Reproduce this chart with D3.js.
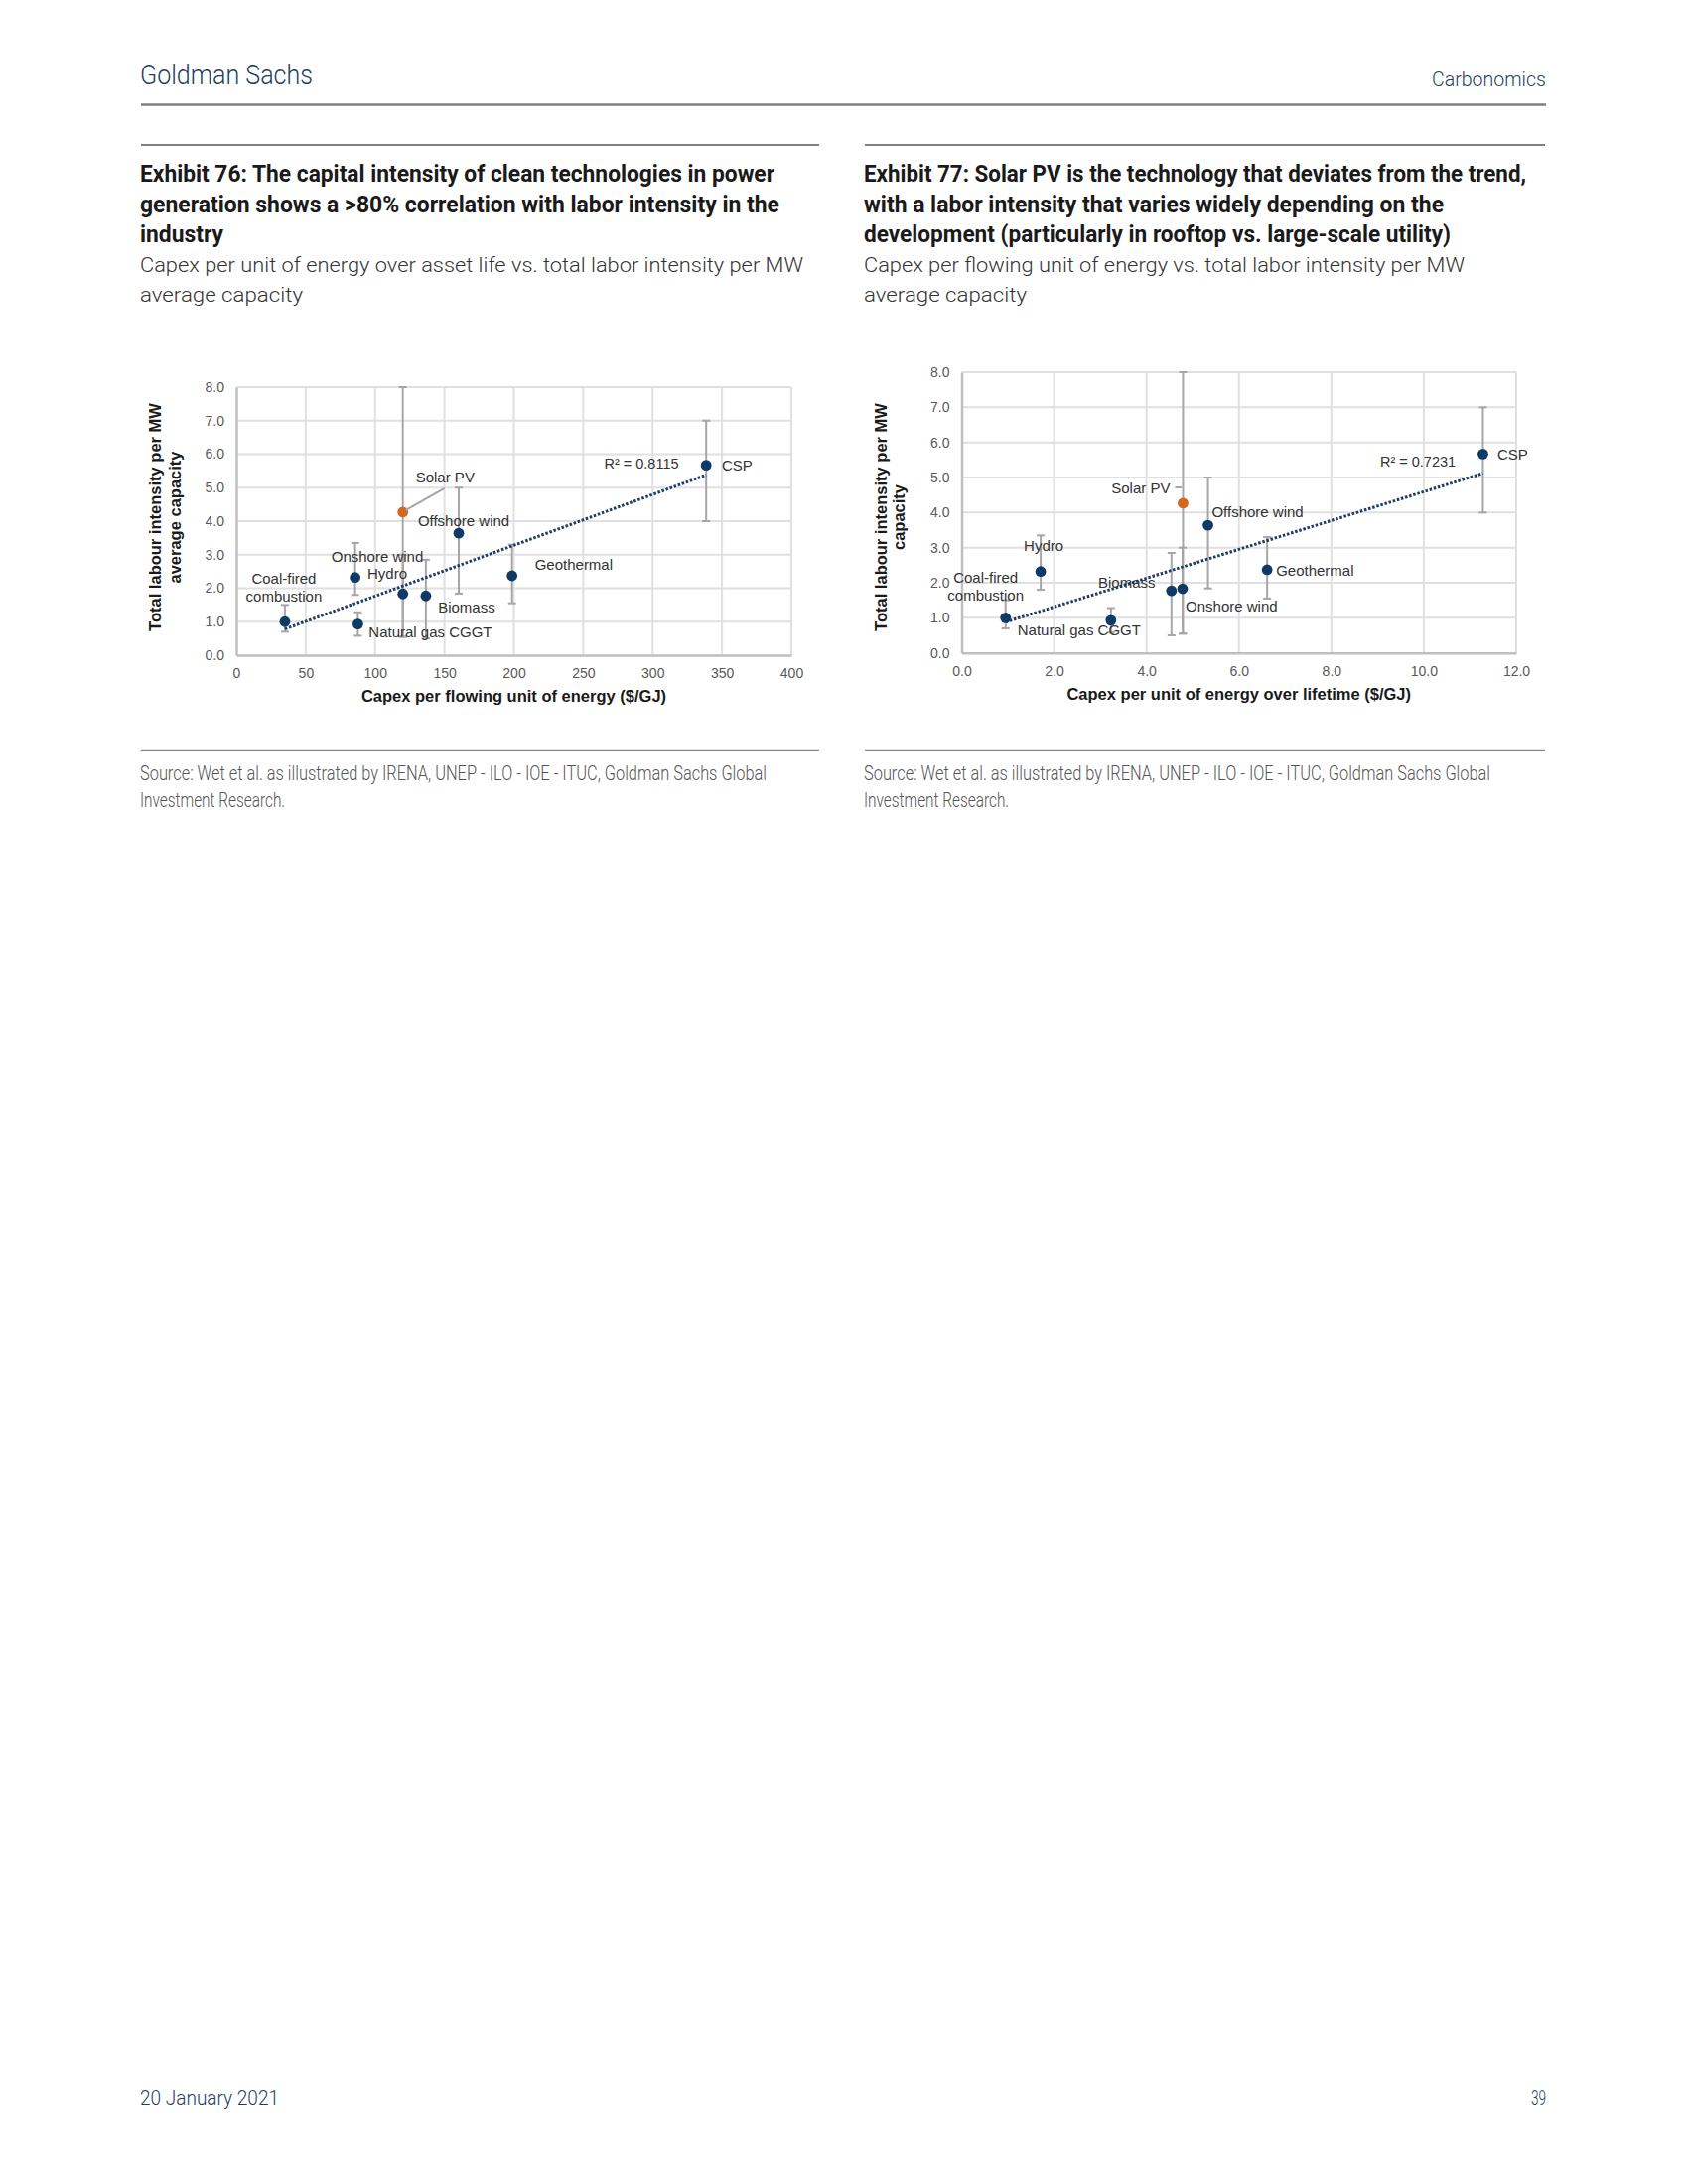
<!DOCTYPE html>
<html><head><meta charset="utf-8">
<script src="https://cdn.jsdelivr.net/npm/d3@7"></script>
<style>body{margin:0;background:#fff} svg{display:block}</style>
</head><body><svg id="page" width="1700" height="2200"></svg>
<script>
// ---------- DATA ----------
const technologies = ["Coal-fired combustion","Hydro","Natural gas CGGT","Onshore wind","Solar PV","Biomass","Offshore wind","Geothermal","CSP"];
const capexFlowing  = [35, 85.6, 87.6, 120, 120, 136.6, 160.3, 198.7, 338.6];   // $/GJ (Exhibit 76 x)
const capexLifetime = [0.95, 1.71, 3.23, 4.78, 4.79, 4.54, 5.33, 6.61, 11.28];  // $/GJ (Exhibit 77 x)
const laborMid  = [1.0, 2.32, 0.93, 1.83, 4.27, 1.77, 3.64, 2.37, 5.67];
const laborLow  = [0.7, 1.8, 0.58, 0.55, 0.55, 0.5, 1.84, 1.55, 4.0];
const laborHigh = [1.5, 3.35, 1.28, 3.0, 8.0, 2.85, 5.0, 3.3, 7.0];
const xTicks76 = [0, 50, 100, 150, 200, 250, 300, 350, 400];
const xTicks77 = [0, 2, 4, 6, 8, 10, 12];
const yTicks = [0, 1, 2, 3, 4, 5, 6, 7, 8];
const trend76X = [35, 338.6], trend76Y = [0.78, 5.38];
const trend77X = [0.95, 11.28], trend77Y = [0.88, 5.12];
const r2Text = ["R\u00B2 = 0.8115", "R\u00B2 = 0.7231"];
const highlight = "Solar PV";

// ---------- PAGE ----------
const svg = d3.select("#page");
const GS = "#1f3f5f";
function txt(str, x, y, o = {}) {
  const t = svg.append("text").attr("x", x).attr("y", y).text(str)
    .style("font-family", o.family || "Roboto, 'Liberation Sans', sans-serif")
    .style("font-size", (o.size || 14) + "px")
    .style("font-weight", o.weight || 400)
    .attr("fill", o.fill || "#222")
    .attr("text-anchor", o.anchor || "start");
  if (o.width) t.attr("textLength", o.width).attr("lengthAdjust", "spacingAndGlyphs");
  return t;
}
function rule(x1, x2, y, w, c) {
  svg.append("line").attr("x1", x1).attr("x2", x2).attr("y1", y).attr("y2", y)
    .attr("stroke", c || "#808080").attr("stroke-width", w);
}
// header / footer
txt("Goldman Sachs", 141, 85, {size: 27, fill: GS, width: 174, weight: 300});
txt("Carbonomics", 1557, 86.5, {size: 21, fill: GS, anchor: "end", width: 115, weight: 300});
rule(142, 1557, 105.5, 2.5, "#7f7f7f");
txt("20 January 2021", 141, 2120, {size: 21, fill: GS, width: 140, weight: 300});
txt("39", 1557, 2120, {size: 21, fill: GS, anchor: "end", weight: 300, width: 15});

// exhibit headings
const heads = [
  {x: 141, rx2: 825, lines: [
     ["Exhibit 76: The capital intensity of clean technologies in power", 639],
     ["generation shows a >80% correlation with labor intensity in the", 644],
     ["industry", 84]],
   sub: [["Capex per unit of energy over asset life vs. total labor intensity per MW", 668], ["average capacity", 164]]},
  {x: 870, rx2: 1556, lines: [
     ["Exhibit 77: Solar PV is the technology that deviates from the trend,", 667],
     ["with a labor intensity that varies widely depending on the", 584],
     ["development (particularly in rooftop vs. large-scale utility)", 591]],
   sub: [["Capex per flowing unit of energy vs. total labor intensity per MW", 605], ["average capacity", 164]]}
];
heads.forEach(h => {
  rule(h.x + 1, h.rx2, 146, 2, "#808080");
  h.lines.forEach((l, i) => txt(l[0], h.x, 183.3 + i * 30.2, {size: 23, weight: 700, fill: "#1a1a1a", width: l[1]}));
  h.sub.forEach((l, i) => txt(l[0], h.x, 274.3 + i * 30, {size: 20, weight: 300, fill: "#333", width: l[1]}));
  rule(h.x + 1, h.rx2, 755.5, 1.5, "#8a8a8a");
  txt("Source: Wet et al. as illustrated by IRENA, UNEP - ILO - IOE - ITUC, Goldman Sachs Global", h.x, 786, {size: 20, weight: 300, fill: "#555", width: 631});
  txt("Investment Research.", h.x, 812.5, {size: 20, weight: 300, fill: "#555", width: 146});
});

// ---------- CHARTS ----------
const ARIAL = "'Liberation Sans', Arial, sans-serif";
function drawChart(c) {
  const g = svg.append("g");
  const x = d3.scaleLinear().domain(c.xDomain).range(c.xRange);
  const y = d3.scaleLinear().domain([0, 8]).range(c.yRange);
  // grid
  g.selectAll(".vg").data(c.xTicks.slice(1)).join("line")
    .attr("x1", d => x(d)).attr("x2", d => x(d)).attr("y1", y(0)).attr("y2", y(8))
    .attr("stroke", "#e0e0e0").attr("stroke-width", 2);
  g.selectAll(".hg").data(yTicks.slice(1)).join("line")
    .attr("x1", x(c.xDomain[0])).attr("x2", x(c.xDomain[1])).attr("y1", d => y(d)).attr("y2", d => y(d))
    .attr("stroke", "#e0e0e0").attr("stroke-width", 2);
  // axes
  const xa = g.append("g").attr("transform", `translate(0,${y(0)})`)
    .call(d3.axisBottom(x).tickValues(c.xTicks).tickFormat(c.xFmt).tickSize(0).tickPadding(13));
  const ya = g.append("g").attr("transform", `translate(${x(c.xDomain[0])},0)`)
    .call(d3.axisLeft(y).tickValues(yTicks).tickFormat(d3.format(".1f")).tickSize(0).tickPadding(12));
  [xa, ya].forEach(a => {
    a.select(".domain").attr("stroke", "#bfbfbf").attr("stroke-width", 2.5);
    a.selectAll("text").style("font-family", ARIAL).style("font-size", "14px").attr("fill", "#595959");
  });
  // error bars
  const idx = d3.range(technologies.length);
  const eb = g.append("g").attr("stroke", "#a6a6a6").attr("stroke-width", 2);
  idx.forEach(i => {
    const px = x(c.xData[i]);
    eb.append("line").attr("x1", px).attr("x2", px).attr("y1", y(laborLow[i])).attr("y2", y(laborHigh[i]));
    [laborLow[i], laborHigh[i]].forEach(v =>
      eb.append("line").attr("x1", px - 4).attr("x2", px + 4).attr("y1", y(v)).attr("y2", y(v)));
  });
  // trend line
  g.append("line").attr("x1", x(c.trendX[0])).attr("x2", x(c.trendX[1]))
    .attr("y1", y(c.trendY[0])).attr("y2", y(c.trendY[1]))
    .attr("stroke", "#1f3c64").attr("stroke-width", 3).attr("stroke-dasharray", "2.5,1.8");
  // markers
  g.selectAll(".pt").data(idx).join("circle")
    .attr("cx", i => x(c.xData[i])).attr("cy", i => y(laborMid[i])).attr("r", 5.4)
    .attr("fill", i => technologies[i] === highlight ? "#d2691e" : "#0f3a66");
  // labels
  idx.forEach(i => {
    const L = c.labels[technologies[i]];
    const px = x(c.xData[i]), py = y(laborMid[i]);
    L.lines.forEach((s, k) => {
      g.append("text").attr("x", px + L.dx).attr("y", py + L.dy[k] + 5.5)
        .attr("text-anchor", L.anchor || "middle").text(s)
        .style("font-family", ARIAL).style("font-size", "15px").attr("fill", "#333");
    });
    if (L.leader) {
      g.append("line").attr("x1", px + L.leader[0]).attr("y1", py + L.leader[1])
        .attr("x2", px + L.leader[2]).attr("y2", py + L.leader[3])
        .attr("stroke", "#a6a6a6").attr("stroke-width", 2);
    }
  });
  // R2
  g.append("text").attr("x", c.r2Pos[0]).attr("y", c.r2Pos[1] + 5.5).attr("text-anchor", "middle")
    .text(c.r2).style("font-family", ARIAL).style("font-size", "14.5px").attr("fill", "#333");
  // axis titles
  g.append("text").attr("x", (c.xRange[0] + c.xRange[1]) / 2).attr("y", c.xTitleY)
    .attr("text-anchor", "middle").text(c.xTitle)
    .style("font-family", ARIAL).style("font-size", "16.5px").style("font-weight", 700).attr("fill", "#1a1a1a");
  c.yTitle.forEach((s, k) => {
    const tx = c.yTitleX[k], ty = 521;
    g.append("text").attr("x", tx).attr("y", ty).attr("text-anchor", "middle")
      .attr("transform", `rotate(-90,${tx},${ty})`).text(s)
      .style("font-family", ARIAL).style("font-size", "16.5px").style("font-weight", 700).attr("fill", "#1a1a1a");
  });
}

drawChart({
  xDomain: [0, 400], xRange: [238, 797], yRange: [660, 390],
  xData: capexFlowing, xTicks: xTicks76, xFmt: d3.format("d"),
  trendX: trend76X, trendY: trend76Y, r2: r2Text[0], r2Pos: [646, 466],
  xTitle: "Capex per flowing unit of energy ($/GJ)", xTitleY: 706.7,
  yTitle: ["Total labour intensity per MW", "average capacity"], yTitleX: [162, 182],
  labels: {
    "Coal-fired combustion": {lines: ["Coal-fired", "combustion"], dx: -1, dy: [-43.5, -25.5]},
    "Hydro": {lines: ["Hydro"], dx: 32.4, dy: [-4.4]},
    "Natural gas CGGT": {lines: ["Natural gas CGGT"], dx: 73, dy: [8]},
    "Onshore wind": {lines: ["Onshore wind"], dx: -25.7, dy: [-38]},
    "Solar PV": {lines: ["Solar PV"], dx: 42.6, dy: [-35.2], leader: [42, -24, 3, -2]},
    "Biomass": {lines: ["Biomass"], dx: 41, dy: [11.7]},
    "Offshore wind": {lines: ["Offshore wind"], dx: 5, dy: [-13]},
    "Geothermal": {lines: ["Geothermal"], dx: 23, dy: [-12], anchor: "start"},
    "CSP": {lines: ["CSP"], dx: 15.7, dy: [0], anchor: "start"}
  }
});
drawChart({
  xDomain: [0, 12], xRange: [968.5, 1527], yRange: [657.7, 375],
  xData: capexLifetime, xTicks: xTicks77, xFmt: d3.format(".1f"),
  trendX: trend77X, trendY: trend77Y, r2: r2Text[1], r2Pos: [1428, 464.3],
  xTitle: "Capex per unit of energy over lifetime ($/GJ)", xTitleY: 704.5,
  yTitle: ["Total labour intensity per MW", "capacity"], yTitleX: [893, 911],
  labels: {
    "Coal-fired combustion": {lines: ["Coal-fired", "combustion"], dx: -20, dy: [-40.7, -23]},
    "Hydro": {lines: ["Hydro"], dx: 3, dy: [-26.4]},
    "Natural gas CGGT": {lines: ["Natural gas CGGT"], dx: -32, dy: [10]},
    "Onshore wind": {lines: ["Onshore wind"], dx: 49.4, dy: [17]},
    "Solar PV": {lines: ["Solar PV"], dx: -42.6, dy: [-15.8], leader: [-8, -15.8, -1.5, -15.8]},
    "Biomass": {lines: ["Biomass"], dx: -45, dy: [-9]},
    "Offshore wind": {lines: ["Offshore wind"], dx: 50, dy: [-14]},
    "Geothermal": {lines: ["Geothermal"], dx: 9, dy: [1], anchor: "start"},
    "CSP": {lines: ["CSP"], dx: 14.5, dy: [0], anchor: "start"}
  }
});
</script></body></html>
